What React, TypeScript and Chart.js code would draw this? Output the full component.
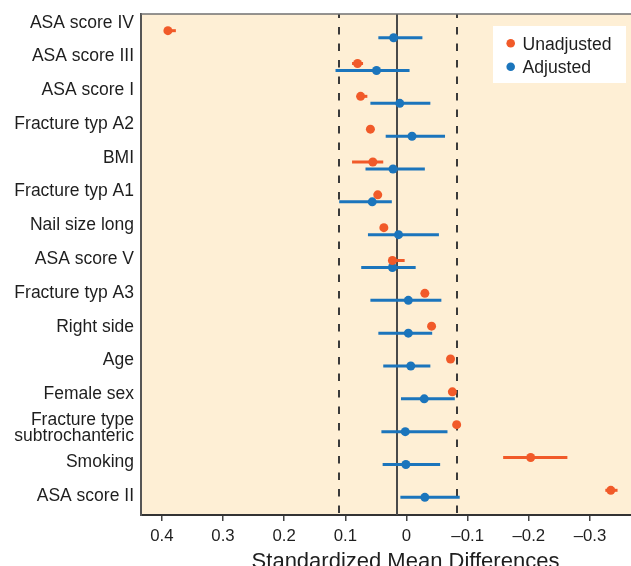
import React, { useEffect, useRef } from 'react';
import { Chart, registerables } from 'chart.js';

Chart.register(...registerables);

// ---------- data ----------
const CATEGORIES: (string | string[])[] = [
  'ASA score IV',
  'ASA score III',
  'ASA score I',
  'Fracture typ A2',
  'BMI',
  'Fracture typ A1',
  'Nail size long',
  'ASA score V',
  'Fracture typ A3',
  'Right side',
  'Age',
  'Female sex',
  ['Fracture type', 'subtrochanteric'],
  'Smoking',
  'ASA score II',
];

const SERIES_NAMES = ['Unadjusted', 'Adjusted'];

const UNADJ_SMD = [0.390, 0.080, 0.075, 0.059, 0.055, 0.047, 0.037, 0.023, -0.030, -0.041, -0.072, -0.075, -0.082, -0.203, -0.334];
const UNADJ_LO = [0.377, 0.071, 0.064, 0.057, 0.038, 0.045, 0.035, 0.003, -0.032, -0.042, -0.074, -0.077, -0.084, -0.263, -0.345];
const UNADJ_HI = [0.396, 0.089, 0.081, 0.061, 0.089, 0.049, 0.039, 0.028, -0.029, -0.039, -0.071, -0.073, -0.080, -0.158, -0.325];

const ADJ_SMD = [0.021, 0.049, 0.011, -0.009, 0.022, 0.056, 0.013, 0.023, -0.003, -0.003, -0.007, -0.029, 0.002, 0.001, -0.030];
const ADJ_LO = [-0.026, -0.005, -0.039, -0.063, -0.030, 0.024, -0.053, -0.015, -0.057, -0.042, -0.039, -0.079, -0.067, -0.055, -0.087];
const ADJ_HI = [0.046, 0.116, 0.059, 0.034, 0.067, 0.110, 0.063, 0.074, 0.059, 0.046, 0.038, 0.009, 0.041, 0.039, 0.010];

const X_TICKS = [0.4, 0.3, 0.2, 0.1, 0, -0.1, -0.2, -0.3];
const REF_SOLID = 0.015;
const REF_DASHED = [0.111, -0.082];
const X_TITLE = 'Standardized Mean Differences';

// ---------- styles ----------
const W = 631;
const H = 566;
const COLORS = ['#F15A29', '#1B75BC'];
const BG = '#FEEFD5';
const FONT = '"Liberation Sans", Arial, Helvetica, sans-serif';
const TEXT = '#1e1e1e';
const DODGE = 0.107;

const zeroPad = (s: any) => {
  s.paddingLeft = 0;
  s.paddingRight = 0;
  s.paddingTop = 0;
  s.paddingBottom = 0;
};

const forestPlugin = {
  id: 'forest',
  beforeDraw(chart: any) {
    const { ctx, chartArea: a } = chart;
    ctx.save();
    ctx.fillStyle = BG;
    ctx.fillRect(a.left, a.top, a.right - a.left, a.bottom - a.top);
    ctx.restore();
  },
  beforeDatasetsDraw(chart: any) {
    const { ctx, chartArea: a } = chart;
    const xs = chart.scales.x;
    const ys = chart.scales.yData;
    ctx.save();
    // reference lines
    ctx.strokeStyle = '#3a3a3a';
    ctx.lineWidth = 2;
    ctx.setLineDash([7.5, 9]);
    ctx.lineDashOffset = 3.4;
    REF_DASHED.forEach((v) => {
      const px = Math.round(xs.getPixelForValue(v));
      ctx.beginPath();
      ctx.moveTo(px, a.top);
      ctx.lineTo(px, a.bottom);
      ctx.stroke();
    });
    ctx.setLineDash([]);
    ctx.strokeStyle = '#4a4a4a';
    const sx = Math.round(xs.getPixelForValue(REF_SOLID));
    ctx.beginPath();
    ctx.moveTo(sx, a.top);
    ctx.lineTo(sx, a.bottom);
    ctx.stroke();
    // top border
    ctx.strokeStyle = '#707070';
    ctx.lineWidth = 1.5;
    ctx.beginPath();
    ctx.moveTo(a.left, a.top);
    ctx.lineTo(a.right, a.top);
    ctx.stroke();
    // error bars
    ctx.lineWidth = 3;
    ctx.lineCap = 'butt';
    chart.data.datasets.forEach((ds: any) => {
      ctx.strokeStyle = ds.backgroundColor;
      ds.data.forEach((p: any, j: number) => {
        const y = ys.getPixelForValue(p.y);
        ctx.beginPath();
        ctx.moveTo(xs.getPixelForValue(ds.errLo[j]), y);
        ctx.lineTo(xs.getPixelForValue(ds.errHi[j]), y);
        ctx.stroke();
      });
    });
    ctx.restore();
  },
  afterDraw(chart: any) {
    const { ctx, chartArea: a } = chart;
    const xs = chart.scales.x;
    ctx.save();
    // legend
    const lx = a.right - 138;
    const ly = a.top + 12;
    ctx.fillStyle = '#ffffff';
    ctx.fillRect(lx, ly, 133, 57);
    ctx.font = `17.6px ${FONT}`;
    ctx.textBaseline = 'alphabetic';
    ctx.textAlign = 'left';
    chart.data.datasets.forEach((ds: any, i: number) => {
      const cy = ly + 17.3 + i * 23.4;
      ctx.fillStyle = ds.backgroundColor;
      ctx.beginPath();
      ctx.arc(lx + 17.7, cy, 4.3, 0, Math.PI * 2);
      ctx.fill();
      ctx.fillStyle = TEXT;
      ctx.fillText(ds.label, lx + 29.5, cy + 6.4);
    });
    // x-axis title
    ctx.font = `22px ${FONT}`;
    ctx.textAlign = 'center';
    ctx.fillStyle = TEXT;
    ctx.fillText(X_TITLE, xs.getPixelForValue(0) - 1, chart.height + 1.5);
    ctx.restore();
  },
};

export default function App() {
  const ref = useRef<HTMLCanvasElement | null>(null);

  useEffect(() => {
    if (!ref.current) return;
    const mk = (vals: number[], lo: number[], hi: number[], i: number) => ({
      label: SERIES_NAMES[i],
      data: vals.map((v, j) => ({ x: v, y: j + (i === 0 ? -DODGE : DODGE) })),
      errLo: lo,
      errHi: hi,
      yAxisID: 'yData',
      xAxisID: 'x',
      backgroundColor: COLORS[i],
      borderColor: COLORS[i],
      borderWidth: 0,
      pointRadius: 4.5,
      pointHoverRadius: 4.5,
    });
    const chart = new Chart(ref.current, {
      type: 'scatter',
      data: {
        datasets: [
          mk(UNADJ_SMD, UNADJ_LO, UNADJ_HI, 0),
          mk(ADJ_SMD, ADJ_LO, ADJ_HI, 1),
        ] as any,
      },
      options: {
        animation: false,
        responsive: false,
        maintainAspectRatio: false,
        devicePixelRatio: 1,
        layout: { autoPadding: false, padding: { top: 14, left: 0, right: 0, bottom: 0 } },
        plugins: { legend: { display: false }, tooltip: { enabled: false } },
        scales: {
          x: {
            type: 'linear',
            position: 'bottom',
            reverse: true,
            min: -0.367,
            max: 0.434,
            afterBuildTicks: (s: any) => {
              s.ticks = X_TICKS.map((v) => ({ value: v }));
            },
            afterFit: (s: any) => {
              s.height = 51;
              zeroPad(s);
            },
            ticks: {
              autoSkip: false,
              maxRotation: 0,
              padding: 5,
              color: TEXT,
              font: { family: FONT, size: 16.8 },
              callback: (v: any) => {
                const n = Number(v);
                if (Math.abs(n) < 1e-9) return '0';
                return n < 0 ? '\u2013' + Math.abs(n).toFixed(1) : n.toFixed(1);
              },
            },
            grid: { drawOnChartArea: false, drawTicks: true, tickLength: 6, color: '#444', lineWidth: 1.5 },
            border: { display: true, color: '#333', width: 2 },
          },
          y: {
            type: 'linear',
            position: 'left',
            reverse: true,
            min: -0.2575,
            max: 14.569,
            afterBuildTicks: (s: any) => {
              s.ticks = CATEGORIES.map((_, i) => ({ value: i }));
            },
            afterFit: (s: any) => {
              s.width = 141;
              zeroPad(s);
            },
            ticks: {
              autoSkip: false,
              padding: 7,
              color: TEXT,
              font: { family: FONT, size: 17.5, lineHeight: 0.96 },
              callback: (v: any) => CATEGORIES[Number(v)] as any,
            },
            grid: { display: false, drawTicks: false },
            border: { display: true, color: '#555', width: 2 },
          },
          yData: {
            type: 'linear',
            position: 'left',
            display: false,
            reverse: true,
            min: -0.615,
            max: 14.645,
            afterFit: (s: any) => {
              s.width = 0;
              zeroPad(s);
            },
          },
        },
      } as any,
      plugins: [forestPlugin],
    });
    return () => chart.destroy();
  }, []);

  return (
    <div style={{ position: 'absolute', left: 0, top: 0, width: W, height: H, background: '#fff' }}>
      <canvas ref={ref} width={W} height={H} style={{ width: W, height: H, display: 'block' }} />
    </div>
  );
}
